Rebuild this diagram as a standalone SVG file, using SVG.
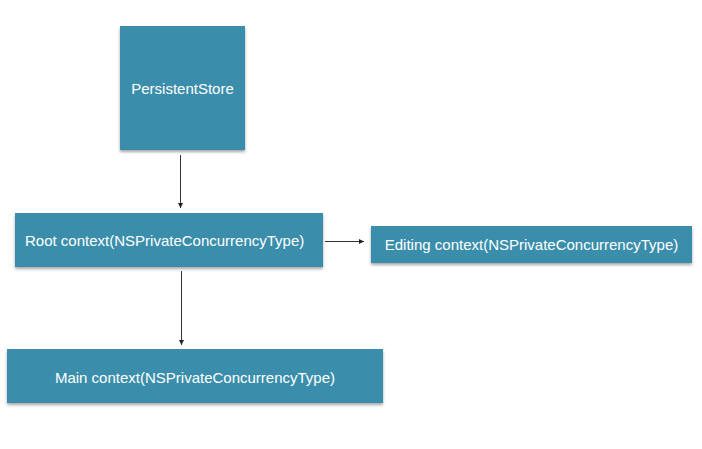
<svg xmlns="http://www.w3.org/2000/svg" width="702" height="449" viewBox="0 0 702 449">
<defs>
<filter id="sh" x="-10%" y="-10%" width="120%" height="130%">
<feDropShadow dx="0" dy="2" stdDeviation="1.5" flood-color="#000" flood-opacity="0.35"/>
</filter>
<marker id="ah" markerWidth="6" markerHeight="6" refX="5" refY="3" orient="auto" markerUnits="userSpaceOnUse">
<path d="M0,0.5 L5,3 L0,5.5 Z" fill="#222"/>
</marker>
</defs>
<style>
.box{fill:#3b8eab;filter:url(#sh);}
.lbl{fill:#fff;font-family:"Liberation Sans",Arial,sans-serif;font-size:15px;}
.con{stroke:#333;stroke-width:1;fill:none;marker-end:url(#ah);}
</style>
<rect width="702" height="449" fill="#fff"/>
<g id="connectors">
<line class="con" x1="180.5" y1="155" x2="180.5" y2="208"/>
<line class="con" x1="181.5" y1="271" x2="181.5" y2="345"/>
<line class="con" x1="325" y1="241.5" x2="364" y2="241.5"/>
</g>
<g id="persistentStore">
<rect class="box" x="120" y="26" width="125" height="124"/>
<text class="lbl" x="182.5" y="94" text-anchor="middle">PersistentStore</text>
</g>
<g id="rootContext">
<rect class="box" x="15" y="213" width="308" height="54"/>
<text class="lbl" x="25" y="246">Root context(NSPrivateConcurrencyType)</text>
</g>
<g id="editingContext">
<rect class="box" x="371" y="226" width="321" height="37"/>
<text class="lbl" x="531.5" y="250" text-anchor="middle">Editing context(NSPrivateConcurrencyType)</text>
</g>
<g id="mainContext">
<rect class="box" x="7" y="349" width="376" height="54"/>
<text class="lbl" x="195" y="383" text-anchor="middle">Main context(NSPrivateConcurrencyType)</text>
</g>
</svg>
